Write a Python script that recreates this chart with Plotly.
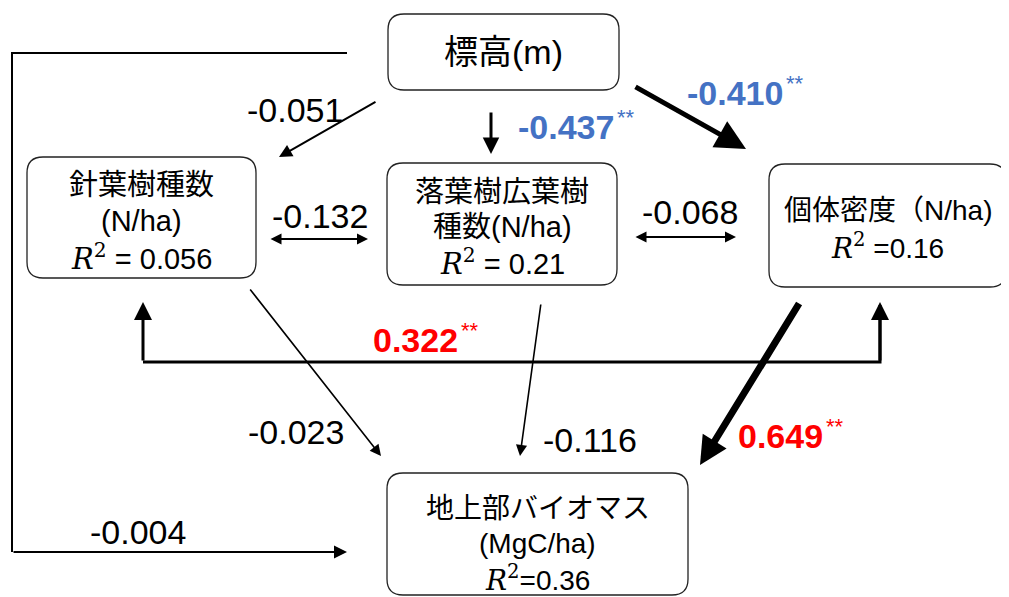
import plotly.graph_objects as go

W, H = 1009, 597
PAGE_OFFSET = 8  # default body margin of the html page

# ---- nodes (label lines, R² text) ----
node_ids = ["elev", "conif", "decid", "dens", "bio"]
node_lines = [
    ["標高(m)"],
    ["針葉樹種数", "(N/ha)"],
    ["落葉樹広葉樹", "種数(N/ha)"],
    ["個体密度（N/ha)"],
    ["地上部バイオマス", "(MgC/ha)"],
]
node_r2 = [None, " = 0.056", " = 0.21", " =0.16", "=0.36"]
# box geometry (left, right, top, bottom) in pixel units
box_x0 = [388, 27, 387, 769, 387]
box_x1 = [619, 256, 617, 1006, 688]
box_y0 = [14, 157, 163, 164, 473]
box_y1 = [90, 278, 285, 287, 595]
text_y0 = [52, 185, 192, 210, 508]   # first text line centre
line_gap = [36, 36, 35, 36, 35]
text_size = [34, 29, 29, 28, 28]

# ---- path coefficients ----
coef_labels = ["-0.051", "-0.437", "-0.410", "-0.132", "-0.068",
               "-0.023", "-0.116", "0.649", "0.322", "-0.004"]
coef_sig = [False, True, True, False, False, False, False, True, True, False]
coef_color = ["black", "#4472C4", "#4472C4", "black", "black",
              "black", "black", "#FF0000", "#FF0000", "black"]
label_x = [295, 566, 735, 320, 690, 296, 590, 780, 415, 138]
label_y = [110, 127, 93, 216, 212, 432, 440, 436, 340, 532]

# arrows: tail (ax, ay) -> tip (x, y)
arrow_ax = [377, 491, 634, 269, 634, 249, 541, 800, 143, 12]
arrow_ay = [101, 111, 86, 239, 237, 288, 303, 302, 362, 552]
arrow_x = [279, 491, 746, 368, 736, 381, 520, 700, 143, 347]
arrow_y = [157, 154, 149, 239, 237, 456, 456, 465, 302, 552]
arrow_w = [2, 3, 5, 2, 2, 1.6, 1.6, 7, 3, 2]
arrow_sz = [1.3, 1.1, 1.2, 1.1, 1.1, 1.4, 1.4, 0.8, 1.2, 1.3]
arrow_both = [False, False, False, True, True, False, False, False, False, False]

# extra polyline parts of bracket connectors
bracket_322 = dict(xs=[143, 880, 880], ys=[362, 362, 305])
bracket_004 = dict(xs=[347, 12, 12], ys=[53, 53, 552])

LATIN_CJK = "Arial, 'Liberation Sans', 'Noto Sans CJK JP', sans-serif"
NUM_FONT = "Arial, 'Liberation Sans', sans-serif"
NUM_SIZE = 34
ARIAL_W = {"-": 0.333, ".": 0.278}

fig = go.Figure()
fig.add_trace(go.Scatter(x=[PAGE_OFFSET, W], y=[PAGE_OFFSET, H], mode="markers",
                         marker=dict(opacity=0), hoverinfo="skip", showlegend=False))

shapes = []
annotations = []

# rounded boxes
for i in range(len(node_ids)):
    x0, x1, y0, y1 = box_x0[i], box_x1[i], box_y0[i], box_y1[i]
    r = 16
    path = (f"M{x0+r},{y0} L{x1-r},{y0} Q{x1},{y0} {x1},{y0+r} "
            f"L{x1},{y1-r} Q{x1},{y1} {x1-r},{y1} L{x0+r},{y1} "
            f"Q{x0},{y1} {x0},{y1-r} L{x0},{y0+r} Q{x0},{y0} {x0+r},{y0} Z")
    shapes.append(dict(type="path", path=path, xref="x", yref="y",
                       line=dict(color="#222", width=1.3), fillcolor="white", layer="below"))
    cx = (x0 + x1) / 2
    lines = list(node_lines[i])
    for k, t in enumerate(lines):
        annotations.append(dict(x=cx, y=text_y0[i] + k * line_gap[i], xref="x", yref="y",
                                text=t, showarrow=False, xanchor="center", yanchor="middle",
                                font=dict(family=LATIN_CJK, size=text_size[i], color="black")))
    if node_r2[i] is not None:
        k = len(lines)
        txt = ("<span style='font-family:\"DejaVu Serif\"'><i>R</i><sup>2</sup></span>"
               + node_r2[i])
        annotations.append(dict(x=cx, y=text_y0[i] + k * line_gap[i], xref="x", yref="y",
                                text=txt, showarrow=False, xanchor="center", yanchor="middle",
                                font=dict(family=LATIN_CJK, size=text_size[i], color="black")))

# bracket polylines
for br, w in [(bracket_322, 3), (bracket_004, 2)]:
    p = "M" + " L".join(f"{x},{y}" for x, y in zip(br["xs"], br["ys"]))
    shapes.append(dict(type="path", path=p, xref="x", yref="y",
                       line=dict(color="black", width=w)))

# arrows
for i in range(len(coef_labels)):
    annotations.append(dict(x=arrow_x[i], y=arrow_y[i], ax=arrow_ax[i], ay=arrow_ay[i],
                            xref="x", yref="y", axref="x", ayref="y", text="",
                            showarrow=True, arrowhead=2, arrowsize=arrow_sz[i],
                            arrowwidth=arrow_w[i], arrowcolor="black",
                            startarrowhead=2, startarrowsize=arrow_sz[i],
                            arrowside="end+start" if arrow_both[i] else "end"))
# second arrow of 0.322 bracket (up into 個体密度)
annotations.append(dict(x=bracket_322["xs"][2], y=302, ax=bracket_322["xs"][2],
                        ay=bracket_322["ys"][0], xref="x", yref="y",
                        axref="x", ayref="y", text="", showarrow=True, arrowhead=2,
                        arrowsize=1.2, arrowwidth=3, arrowcolor="black"))

# coefficient labels
for i in range(len(coef_labels)):
    bold = coef_sig[i]
    txt = f"<b>{coef_labels[i]}</b>" if bold else coef_labels[i]
    annotations.append(dict(x=label_x[i], y=label_y[i], xref="x", yref="y", text=txt,
                            showarrow=False, xanchor="center", yanchor="middle",
                            font=dict(family=NUM_FONT, size=NUM_SIZE, color=coef_color[i])))
    if coef_sig[i]:
        width = sum(ARIAL_W.get(c, 0.556) for c in coef_labels[i]) * NUM_SIZE
        annotations.append(dict(x=label_x[i] + width / 2 + 1, y=label_y[i] - 10,
                                xref="x", yref="y",
                                text="**", showarrow=False, xanchor="left", yanchor="middle",
                                font=dict(family=NUM_FONT, size=22, color=coef_color[i])))

fig.update_layout(
    width=W, height=H, margin=dict(l=0, r=0, t=0, b=0),
    paper_bgcolor="white", plot_bgcolor="white",
    xaxis=dict(range=[PAGE_OFFSET, W + PAGE_OFFSET], visible=False, fixedrange=True),
    yaxis=dict(range=[H + PAGE_OFFSET, PAGE_OFFSET], visible=False, fixedrange=True),
    shapes=shapes, annotations=annotations, showlegend=False,
)
fig.write_html("out.html")
